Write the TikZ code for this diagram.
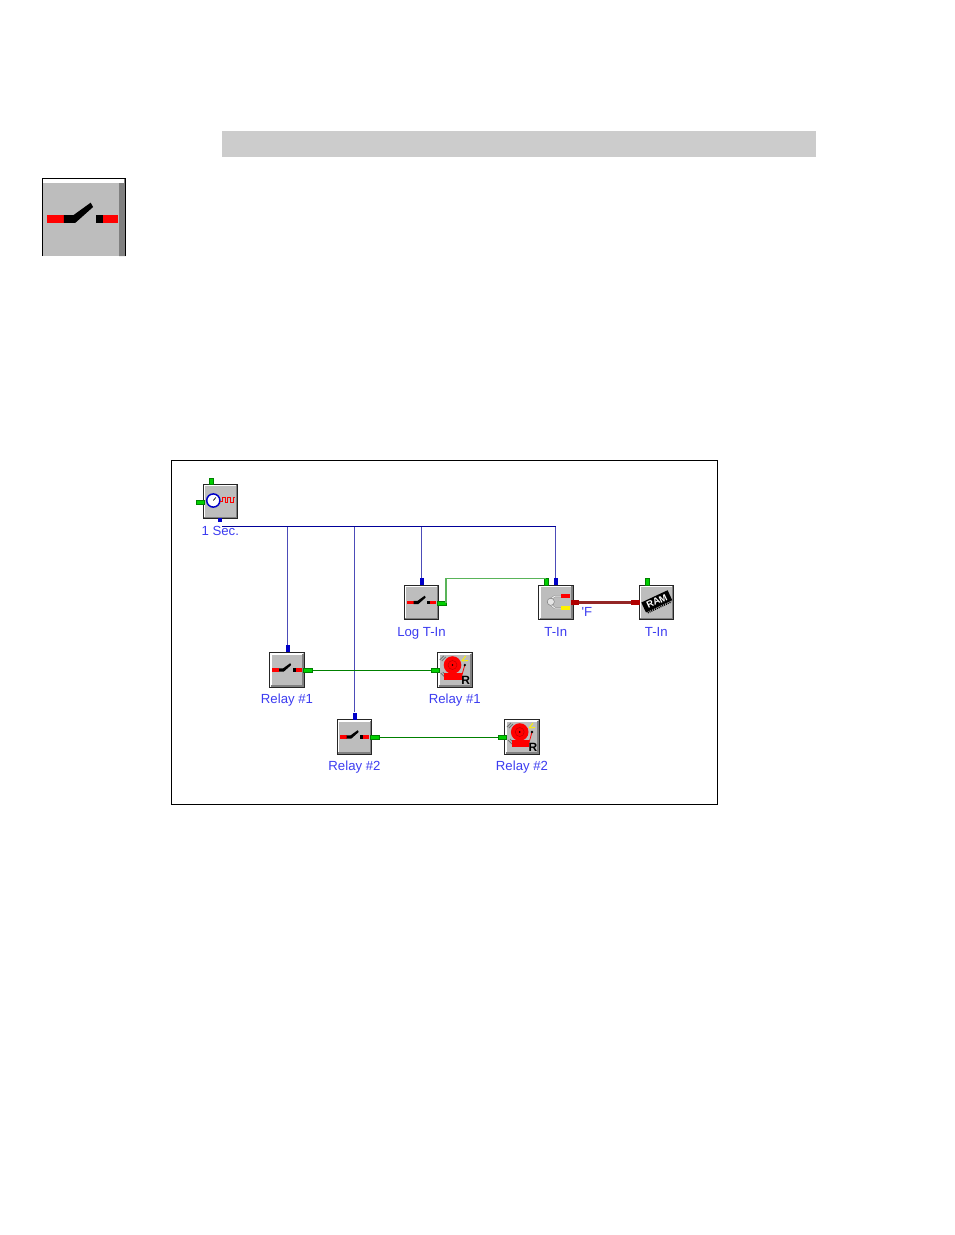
\documentclass[tikz,border=0pt]{standalone}
\usepackage{fontspec}
\newfontfamily\tagfont{Liberation Sans}
\usetikzlibrary{positioning}
\usetikzlibrary{calc}
\definecolor{blockgray}{HTML}{BDBDBD}
\definecolor{tagblue}{HTML}{3C3CF0}
\definecolor{portgreen}{HTML}{00D000}
\definecolor{portblue}{HTML}{0000C8}
\definecolor{portred}{HTML}{B00000}
\tikzset{
  switchicon/.pic={
    \fill[red] (-14.8,-1.6) rectangle (-8,1.6);
    \fill[black] (-8,-1.6) -- (-4,-1.6) -- (3.2,-6.8) -- (4.2,-5) -- (-3.2,1.6) -- (-8,1.6) -- cycle;
    \fill[black] (5.5,-1.6) rectangle (8.5,1.6);
    \fill[red] (8.5,-1.6) rectangle (14.5,1.6);
  },
  clockicon/.pic={
    \draw[portblue,fill=white,line width=1.5pt] (-7,-1) circle (6.6);
    \draw[black,line width=.7pt] (-7,-1) -- (-4.5,-4);
    \draw[red,line width=.9pt] (-.5,-.5) -- (2,-.5) -- (2,-4.5) -- (5,-4.5) -- (5,1) -- (7.5,1)
      -- (7.5,-4.5) -- (10.5,-4.5) -- (10.5,1) -- (13,1) -- (13,-4.5) -- (14.5,-4.5);
  },
  thermoicon/.pic={
    \draw[gray,line width=1.8pt] (5.5,-6.3) -- (-1,-6.3) -- (-6,-3) (5.5,5.5) -- (-1,5.5) -- (-6,1.5);
    \draw[white!90!gray,line width=1pt] (5.5,-6.3) -- (-1,-6.3) -- (-6,-3) (5.5,5.5) -- (-1,5.5) -- (-6,1.5);
    \fill[white!80!gray,draw=gray,line width=.5pt] (-5,-.7) circle (3.6);
    \fill[red] (5.3,-8.3) rectangle (14.3,-4.3);
    \fill[yellow] (5.3,3.7) rectangle (14.3,7);
  },
  ramicon/.pic={
    \begin{scope}[shift={(.7,-.7)},rotate=25]
      \fill[black] (-14.5,-6) rectangle (14.5,5);
      \draw[black,line width=1.6pt,dash pattern=on 1pt off 1pt] (-13,6) -- (13,6);
      \node[text=white,font=\tagfont\bfseries\fontsize{9.5}{9.5}\selectfont,inner sep=0,rotate=25] (ramtext) at (0,-.5) {RAM};
    \end{scope}
  },
  bellicon/.pic={
    \draw[black!55,line width=.9pt] (-15,-10) -- (-11,-14) (-13,-9) -- (-9,-13) (-14,3) -- (-10,7) (-12,2) -- (-8,6);
    \fill[red] (-10.5,3.3) rectangle (7,10);
    \fill[red] (-2.3,-5) circle (8.8);
    \draw[red!75!black,line width=.5pt] (-2.3,-5) circle (4.5);
    \fill[black] (-2.3,-5) circle (.9);
    \draw[red,line width=.8pt] (10,-5) -- (6.7,6.7);
    \fill[black] (10,-5) circle (1.3);
    \draw[yellow,line width=.9pt] (7,-9) -- (11,-14) (7,-9) -- (13,-9.5);
    \node[text=black,font=\tagfont\bfseries\fontsize{12}{12}\selectfont,inner sep=0] (belltext) at (11,10.7) {R};
  }
}

\begin{document}
\begin{tikzpicture}[x=1pt,y=-1pt,
  block/.style={draw=black!85,fill=blockgray,line width=1pt,minimum size=34.5pt,inner sep=0,
    path picture={
      \draw[white,line width=2pt] ($(path picture bounding box.south west)+(1,1)$) |- ($(path picture bounding box.north east)+(-1,1)$);
      \draw[gray,line width=2pt] ($(path picture bounding box.south west)+(1,-1)$) -| ($(path picture bounding box.north east)+(-1,1)$);
    }},
  tag/.style={text=tagblue,font=\tagfont\fontsize{13.2}{14}\selectfont,inner sep=0,text height=9.7pt,text depth=2.5pt},
  greenh/.style={fill=portgreen,draw=green!50!black,line width=.3pt,minimum width=8.5pt,minimum height=4pt,inner sep=0},
  greenv/.style={fill=portgreen,draw=green!50!black,line width=.3pt,minimum width=4pt,minimum height=6.5pt,inner sep=0},
  bluev/.style={fill=portblue,minimum width=4pt,minimum height=7pt,inner sep=0},
  redh/.style={fill=portred,minimum width=8.5pt,minimum height=4.8pt,inner sep=0},
  bus/.style={draw=blue!60!black!70!white,line width=1.5pt},
  busdark/.style={draw=blue!60!black,line width=1.1pt},
  signal/.style={draw=green!50!black,line width=.9pt},
  signalpale/.style={draw=green!55!black!65!white,line width=1.4pt},
  thermal/.style={draw=red!50!black!85!white,line width=3pt}]

  \useasboundingbox (0,0) rectangle (954,1235);

  % header bar and large icon
  \fill[black!20] (222,131) rectangle (816,157);
  \fill[blockgray] (42.5,178.5) rectangle (125.5,256);
  \fill[gray] (119,183) -- (125,178.5) -- (125.5,256) -- (119,256) -- cycle;
  \fill[white] (43,179) rectangle (124,183);
  \draw[black,line width=1pt] (42.5,256) -- (42.5,178.5) -- (125.5,178.5) -- (125.5,256);
  \pic[scale=2.4] at (83,219) {switchicon};

  % frame
  \draw[black,line width=1pt] (171.5,460.5) rectangle (717.5,804.5);

  % blocks
  \node[block] (clkbox) at (220.3,501.5) {};
  \node[block] (logbox) at (421.5,602.5) {};
  \node[block] (tinbox) at (555.8,602.5) {};
  \node[block] (rambox) at (656.3,602.5) {};
  \node[block] (relayabox) at (287,670) {};
  \node[block] (bellabox) at (454.8,670) {};
  \node[block] (relaybbox) at (354.5,737) {};
  \node[block] (bellbbox) at (522,737) {};

  \pic at (clkbox) {clockicon};
  \pic at (logbox) {switchicon};
  \pic at (tinbox) {thermoicon};
  \pic at (rambox) {ramicon};
  \pic at (relayabox) {switchicon};
  \pic at (bellabox) {bellicon};
  \pic at (relaybbox) {switchicon};
  \pic at (bellbbox) {bellicon};

  % labels
  \node[tag,below=6.3pt of clkbox.south] (clktag) {1 Sec.};
  \node[tag,below=6.3pt of logbox.south] (logtag) {Log T-In};
  \node[tag,below=6.3pt of tinbox.south] (tintag) {T-In};
  \node[tag,below=6.3pt of rambox.south] (ramtag) {T-In};
  \node[tag,below=6.3pt of relayabox.south] (relayatag) {Relay \#1};
  \node[tag,below=6.3pt of bellabox.south] (bellatag) {Relay \#1};
  \node[tag,below=6.3pt of relaybbox.south] (relaybtag) {Relay \#2};
  \node[tag,below=6.3pt of bellbbox.south] (bellbtag) {Relay \#2};
  \node[tag] (unittag) at (587,612.5) {'F};

  % ports
  \node[greenv] (clktop) at (211,481) {};
  \node[greenh] (clkin) at (200,501.7) {};
  \node[fill=portblue,minimum size=4pt,inner sep=0] (clkout) at (220,519.7) {};
  \node[bluev] (logen) at (421.7,581.5) {};
  \node[greenh] (logout) at (441.6,602.7) {};
  \node[greenv] (tinen) at (546,581.7) {};
  \node[bluev] (tinclk) at (555.7,581.5) {};
  \node[redh] (tinout) at (575,602.2) {};
  \node[redh] (ramin) at (635.5,602.2) {};
  \node[greenv] (ramtop) at (647,581.7) {};
  \node[bluev] (relayaen) at (287.5,648.8) {};
  \node[greenh] (relayaout) at (307.7,670) {};
  \node[greenh] (bellain) at (435,670) {};
  \node[bluev] (relayben) at (354.5,716) {};
  \node[greenh] (relaybout) at (374.5,737) {};
  \node[greenh] (bellbin) at (502,737) {};

  % wires
  \coordinate (busstart) at (222,526.7);
  \draw[bus] (tinclk |- busstart) -- (tinclk.north);
  \draw[bus] (logen |- busstart) -- (logen.north);
  \draw[bus] (relayaen |- busstart) -- (relayaen.north);
  \draw[bus] (relayben |- busstart) -- (relayben.north);
  \draw[busdark] (busstart) -- (tinclk |- busstart);
  \draw[signalpale] (logout.east) |- (tinen.north);
  \draw[thermal] (tinout.east) -- (ramin.west);
  \draw[signal] (relayaout.east) -- (bellain.west);
  \draw[signal] (relaybout.east) -- (bellbin.west);
\end{tikzpicture}
\end{document}
